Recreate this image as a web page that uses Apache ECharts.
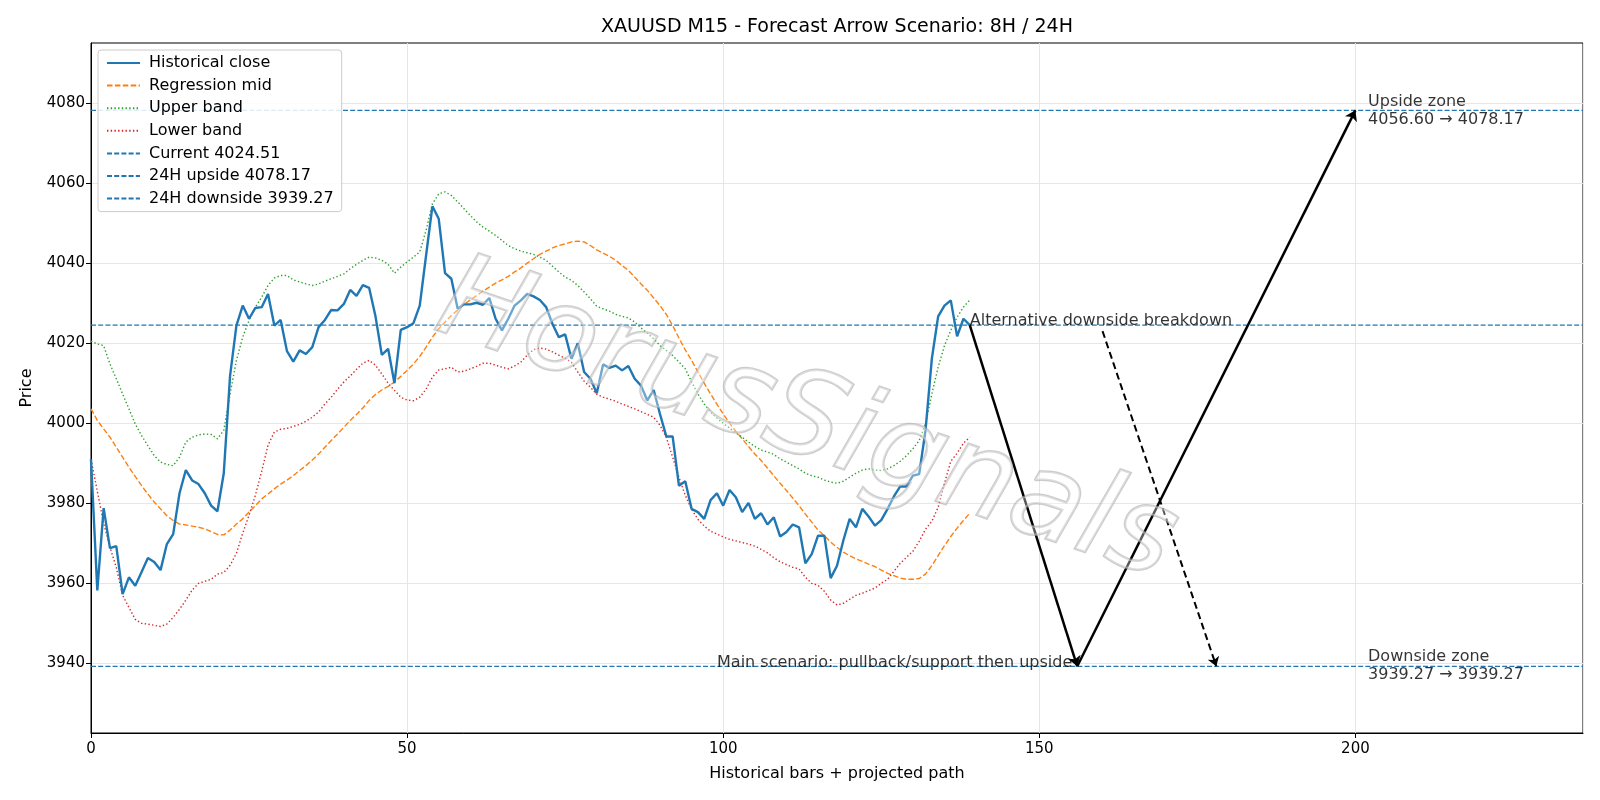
<!DOCTYPE html>
<html>
<head>
<meta charset="utf-8">
<title>XAUUSD M15 forecast</title>
<script src="https://cdn.jsdelivr.net/npm/echarts@6/dist/echarts.min.js"></script>
<style>
  html, body { margin: 0; padding: 0; background: #fff; }
  #chart { width: 1600px; height: 800px; }
</style>
</head>
<body>
<div id="chart"></div>
<script>
// bar values (index 0..139)
const closes = [
  3991.0, 3958.2, 3978.8, 3968.8, 3969.3, 3957.3, 3961.5, 3959.4, 3962.8, 3966.3,
  3965.3, 3963.3, 3969.8, 3972.3, 3982.5, 3988.3, 3985.7, 3984.8, 3982.5, 3979.4,
  3978.0, 3987.5, 4011.9, 4024.4, 4029.4, 4026.1, 4028.8, 4029.0, 4032.3, 4024.4,
  4025.8, 4018.0, 4015.4, 4018.2, 4017.3, 4019.0, 4024.0, 4025.8, 4028.3, 4028.2,
  4029.8, 4033.3, 4031.8, 4034.5, 4033.8, 4026.7, 4017.1, 4018.6, 4010.0, 4023.3,
  4024.0, 4025.0, 4029.4, 4041.9, 4054.2, 4051.1, 4037.5, 4036.1, 4028.6, 4029.7,
  4029.7, 4030.1, 4029.6, 4031.3, 4026.1, 4023.2, 4026.1, 4029.4, 4030.7, 4032.3,
  4031.7, 4030.8, 4029.0, 4024.8, 4021.5, 4022.2, 4016.1, 4020.0, 4012.8, 4011.1,
  4007.5, 4014.7, 4013.8, 4014.4, 4013.2, 4014.3, 4011.1, 4009.4, 4005.7, 4008.3,
  4002.3, 3996.7, 3996.7, 3984.4, 3985.5, 3978.6, 3977.8, 3976.1, 3980.8, 3982.5,
  3979.4, 3983.3, 3981.5, 3977.8, 3980.1, 3976.1, 3977.5, 3974.7, 3976.5, 3971.7,
  3972.8, 3974.7, 3974.0, 3965.0, 3967.3, 3971.9, 3971.9, 3961.3, 3964.4, 3970.7,
  3976.1, 3974.0, 3978.6, 3976.7, 3974.4, 3975.8, 3978.6, 3981.7, 3984.2, 3984.2,
  3986.9, 3987.3, 3998.2, 4016.1, 4026.7, 4029.4, 4030.7, 4021.7, 4026.1, 4024.51
];
const regMid = [
  4003.6, 4000.7, 3998.6, 3996.5, 3994.0, 3991.5, 3989.0, 3986.7, 3984.4, 3982.3,
  3980.3, 3978.6, 3976.9, 3975.7, 3974.8, 3974.6, 3974.3, 3974.0, 3973.6, 3972.9,
  3972.2, 3972.1, 3973.3, 3974.8, 3976.1, 3977.8, 3979.4, 3981.1, 3982.3, 3983.6,
  3984.8, 3985.8, 3986.9, 3988.2, 3989.4, 3990.8, 3992.3, 3994.0, 3995.7, 3997.3,
  3999.0, 4000.7, 4002.2, 4003.8, 4005.7, 4007.2, 4008.3, 4009.2, 4010.3, 4011.7,
  4013.2, 4014.8, 4016.7, 4019.0, 4021.5, 4023.6, 4025.3, 4026.9, 4028.3, 4029.7,
  4030.8, 4031.9, 4033.0, 4034.0, 4035.0, 4035.8, 4036.7, 4037.8, 4038.8, 4040.0,
  4041.1, 4042.2, 4043.0, 4043.8, 4044.4, 4044.8, 4045.3, 4045.5, 4045.3, 4044.4,
  4043.3, 4042.5, 4041.7, 4040.7, 4039.4, 4038.2, 4036.5, 4034.8, 4033.2, 4031.3,
  4029.4, 4027.2, 4024.4, 4021.3, 4018.3, 4015.7, 4012.8, 4010.0, 4007.3, 4004.8,
  4002.3, 4000.0, 3998.0, 3996.1, 3994.2, 3992.3, 3990.7, 3988.8, 3986.9, 3985.0,
  3983.2, 3981.3, 3979.4, 3977.3, 3975.3, 3973.3, 3971.9, 3970.3, 3969.0, 3967.8,
  3966.9, 3966.1, 3965.5, 3964.8, 3964.2, 3963.3, 3962.5, 3961.9, 3961.3, 3961.0,
  3961.0, 3961.2, 3962.3, 3964.4, 3966.9, 3969.4, 3971.7, 3973.8, 3975.7, 3977.5
];
const upperBand = [
  4020.5, 4019.8, 4019.4, 4014.8, 4011.1, 4007.3, 4003.6, 3999.8, 3996.9, 3994.4,
  3991.9, 3990.3, 3989.7, 3989.4, 3991.5, 3995.3, 3996.5, 3997.1, 3997.3, 3997.2,
  3996.1, 3998.2, 4007.3, 4015.7, 4021.5, 4025.7, 4029.0, 4031.5, 4034.4, 4036.3,
  4036.9, 4036.9, 4035.8, 4035.3, 4034.8, 4034.4, 4034.8, 4035.5, 4036.1, 4036.7,
  4037.3, 4038.6, 4039.7, 4040.7, 4041.5, 4041.3, 4040.7, 4039.7, 4037.5, 4039.0,
  4040.3, 4041.5, 4042.8, 4048.2, 4054.8, 4057.3, 4057.8, 4056.9, 4055.3, 4053.6,
  4051.9, 4050.3, 4049.0, 4048.0, 4046.9, 4045.7, 4044.4, 4043.6, 4043.0, 4042.6,
  4042.2, 4041.5, 4040.7, 4039.2, 4037.8, 4036.5, 4035.7, 4034.4, 4032.8, 4031.1,
  4029.2, 4028.6, 4028.0, 4027.2, 4026.7, 4026.3, 4025.3, 4023.8, 4022.5, 4021.1,
  4019.4, 4018.2, 4016.9, 4015.3, 4013.6, 4010.3, 4007.3, 4004.8, 4002.8, 4001.3,
  4000.0, 3998.8, 3997.6, 3996.5, 3995.3, 3994.2, 3993.3, 3992.8, 3992.2, 3991.1,
  3990.3, 3989.4, 3988.6, 3987.5, 3986.9, 3986.5, 3985.8, 3985.3, 3985.0, 3985.5,
  3986.5, 3987.5, 3988.3, 3988.6, 3988.3, 3988.2, 3988.6, 3989.4, 3990.5, 3991.9,
  3993.6, 3995.7, 3999.8, 4007.3, 4014.0, 4019.4, 4023.2, 4026.5, 4029.0, 4030.8
];
const lowerBand = [
  3991.0, 3983.0, 3975.0, 3969.0, 3964.0, 3957.0, 3954.0, 3951.0, 3950.0, 3949.8,
  3949.5, 3949.2, 3949.8, 3951.5, 3953.5, 3955.8, 3958.3, 3960.0, 3960.5, 3961.0,
  3962.3, 3962.7, 3964.5, 3967.5, 3972.5, 3977.0, 3982.0, 3988.0, 3994.5, 3997.8,
  3998.5, 3998.7, 3999.2, 3999.7, 4000.5, 4001.5, 4002.8, 4004.8, 4006.5, 4008.5,
  4010.3, 4011.8, 4013.5, 4015.0, 4015.7, 4014.5, 4012.3, 4010.0, 4008.2, 4006.5,
  4005.8, 4005.6, 4006.5, 4008.5, 4011.5, 4013.3, 4013.6, 4014.0, 4012.8, 4013.0,
  4013.6, 4014.2, 4015.0, 4015.0, 4014.5, 4014.0, 4013.6, 4014.3, 4015.3, 4017.0,
  4018.4, 4018.8, 4018.5, 4017.8, 4017.0, 4016.2, 4015.2, 4012.8, 4010.5, 4009.0,
  4007.2, 4006.5, 4006.0, 4005.5, 4004.8, 4004.2, 4003.6, 4002.9, 4002.2, 4001.5,
  3999.5, 3996.5, 3991.5, 3986.5, 3982.0, 3978.5, 3976.0, 3974.3, 3973.0, 3972.3,
  3971.6, 3971.0, 3970.6, 3970.2, 3969.8, 3969.3, 3968.5, 3967.6, 3966.4, 3965.4,
  3964.7, 3964.0, 3963.6, 3961.5, 3960.0, 3959.5, 3958.0, 3955.8, 3954.6, 3955.0,
  3956.0, 3957.0, 3957.5, 3958.2, 3958.8, 3960.0, 3961.0, 3963.0, 3965.0, 3966.5,
  3968.0, 3970.5, 3973.5, 3975.5, 3979.0, 3985.0, 3990.5, 3992.5, 3995.0, 3996.5
];

// levels
const currentPrice = 4024.51;
const upside24 = 4078.17;
const downside24 = 3939.27;
const upsideZone = [4056.60, 4078.17];
const downsideZone = [3939.27, 3939.27];

// axis ranges and ticks
const xRange = [0, 236];
const yRange = [3922.6, 4095.0];
const yTicks = [3940, 3960, 3980, 4000, 4020, 4040, 4060, 4080];

// projected paths: [bar, price]
const mainPath = [[139, currentPrice], [156, downside24], [200, upside24]];
const altPath = [[160, 4023.0], [178, downside24]];

// text annotations anchored at [bar, price]
const altLabel = { text: 'Alternative downside breakdown', at: [139, currentPrice] };
const mainLabel = { text: 'Main scenario: pullback/support then upside', at: [156, downside24] };
const upZoneLabel = { text: 'Upside zone\n' + upsideZone[0].toFixed(2) + ' \u2192 ' + upsideZone[1].toFixed(2), at: [202, upside24] };
const downZoneLabel = { text: 'Downside zone\n' + downsideZone[0].toFixed(2) + ' \u2192 ' + downsideZone[1].toFixed(2), at: [202, downside24] };

const FONT = '"DejaVu Sans", "Liberation Sans", sans-serif';
const FS = 16;
const TICK_FS = 15;
const toXY = arr => arr.map((v, i) => [i, v]);
const hline = v => [[xRange[0], v], [xRange[1], v]];

const chart = echarts.init(document.getElementById('chart'), null, { renderer: 'canvas' });

function levelSeries(name, v) {
  return {
    name: name, type: 'line', data: hline(v), symbol: 'none', z: 2,
    lineStyle: { color: '#1f77b4', width: 1.2, type: [5, 2.2] },
    itemStyle: { color: '#1f77b4' }, silent: true
  };
}

function labelPoint(lbl, align, vAlign, offset) {
  return {
    value: lbl.at,
    label: {
      show: true, formatter: lbl.text, position: [0, 0], offset: offset,
      align: align, verticalAlign: vAlign, color: '#000',
      fontSize: FS, fontFamily: FONT, lineHeight: 18
    }
  };
}

const option = {
  backgroundColor: '#fff',
  animation: false,
  textStyle: { fontFamily: FONT },
  title: {
    text: 'XAUUSD M15 - Forecast Arrow Scenario: 8H / 24H',
    left: 832, top: 13, textAlign: 'center',
    textStyle: { fontSize: 19, fontWeight: 'normal', color: '#000', fontFamily: FONT }
  },
  grid: {
    left: 91, right: 17, top: 43, bottom: 67,
    show: true, borderColor: '#000', borderWidth: 1, backgroundColor: 'transparent'
  },
  legend: {
    orient: 'vertical', left: 98, top: 50,
    padding: [5, 8, 5, 8], itemGap: 6.6, itemWidth: 33, itemHeight: 14,
    backgroundColor: 'rgba(255,255,255,0.85)', borderColor: '#cccccc', borderWidth: 1, borderRadius: 3,
    itemStyle: { opacity: 0 },
    textStyle: { fontSize: FS, color: '#000', fontFamily: FONT, padding: [0, 0, 0, 4] },
    data: ['Historical close', 'Regression mid', 'Upper band', 'Lower band',
      'Current ' + currentPrice.toFixed(2), '24H upside ' + upside24.toFixed(2), '24H downside ' + downside24.toFixed(2)]
  },
  xAxis: {
    type: 'value', min: xRange[0], max: xRange[1], interval: 50,
    name: 'Historical bars + projected path', nameLocation: 'middle', nameGap: 33,
    nameTextStyle: { fontSize: FS, color: '#000', fontFamily: FONT },
    axisLine: { show: true, lineStyle: { color: '#000', width: 1 } },
    axisTick: { show: true, length: 5, lineStyle: { color: '#000' } },
    axisLabel: { fontSize: TICK_FS, color: '#000', margin: 9, fontFamily: FONT, showMaxLabel: false },
    splitLine: { show: true, lineStyle: { color: '#e6e6e6', width: 1 } }
  },
  yAxis: {
    type: 'value', min: yRange[0], max: yRange[1],
    name: 'Price', nameLocation: 'middle', nameGap: 56,
    nameTextStyle: { fontSize: FS, color: '#000', fontFamily: FONT },
    axisLine: { show: true, lineStyle: { color: '#000', width: 1 } },
    axisTick: { show: true, length: 5, lineStyle: { color: '#000' }, customValues: yTicks },
    axisLabel: {
      fontSize: TICK_FS, color: '#000', margin: 6, fontFamily: FONT, customValues: yTicks,
      formatter: v => String(Math.round(v))
    },
    splitLine: { show: true, lineStyle: { color: '#e6e6e6', width: 1 } }
  },
  series: [
    {
      name: 'Historical close', type: 'line', data: toXY(closes), symbol: 'none', z: 4,
      lineStyle: { color: '#1f77b4', width: 2.4 }, itemStyle: { color: '#1f77b4' }
    },
    {
      name: 'Regression mid', type: 'line', data: toXY(regMid), symbol: 'none', z: 3,
      lineStyle: { color: '#ff7f0e', width: 1.4, type: [5.5, 2.4] }, itemStyle: { color: '#ff7f0e' }
    },
    {
      name: 'Upper band', type: 'line', data: toXY(upperBand), symbol: 'none', z: 3,
      lineStyle: { color: '#2ca02c', width: 1.4, type: [1.4, 2.3] }, itemStyle: { color: '#2ca02c' }
    },
    {
      name: 'Lower band', type: 'line', data: toXY(lowerBand), symbol: 'none', z: 3,
      lineStyle: { color: '#d62728', width: 1.4, type: [1.4, 2.3] }, itemStyle: { color: '#d62728' }
    },
    levelSeries('Current ' + currentPrice.toFixed(2), currentPrice),
    levelSeries('24H upside ' + upside24.toFixed(2), upside24),
    levelSeries('24H downside ' + downside24.toFixed(2), downside24),
    {
      type: 'lines', coordinateSystem: 'cartesian2d', z: 6, silent: true,
      symbol: ['none', 'arrow'], symbolSize: 10,
      lineStyle: { color: '#000', width: 2.5, opacity: 1 },
      data: [
        { coords: [mainPath[0], mainPath[1]] },
        { coords: [mainPath[1], mainPath[2]] }
      ]
    },
    {
      type: 'lines', coordinateSystem: 'cartesian2d', z: 6, silent: true,
      symbol: ['none', 'arrow'], symbolSize: 9,
      lineStyle: { color: '#000', width: 2, type: [7, 4], opacity: 1 },
      data: [{ coords: [altPath[0], altPath[1]] }]
    },
    {
      type: 'scatter', symbolSize: 0, z: 7, silent: true,
      itemStyle: { color: 'transparent' },
      data: [
        labelPoint(altLabel, 'left', 'bottom', [0, 5]),
        labelPoint(mainLabel, 'right', 'bottom', [-5, 6]),
        labelPoint(upZoneLabel, 'left', 'middle', [0, 0]),
        labelPoint(downZoneLabel, 'left', 'middle', [0, 0])
      ]
    }
  ],
  graphic: [{
    type: 'text', x: 806, y: 424, rotation: -0.33, z: 100, silent: true,
    style: {
      text: 'HorusSignals',
      fontSize: 118, fontStyle: 'italic', fontFamily: '"DejaVu Sans"',
      align: 'center', verticalAlign: 'middle',
      fill: 'rgba(255,255,255,0.35)', stroke: 'rgba(170,170,170,0.6)', lineWidth: 2.5,
      shadowColor: 'rgba(0,0,0,0.15)', shadowOffsetX: 3, shadowOffsetY: 3, shadowBlur: 2
    }
  }]
};

chart.setOption(option);
</script>
</body>
</html>
